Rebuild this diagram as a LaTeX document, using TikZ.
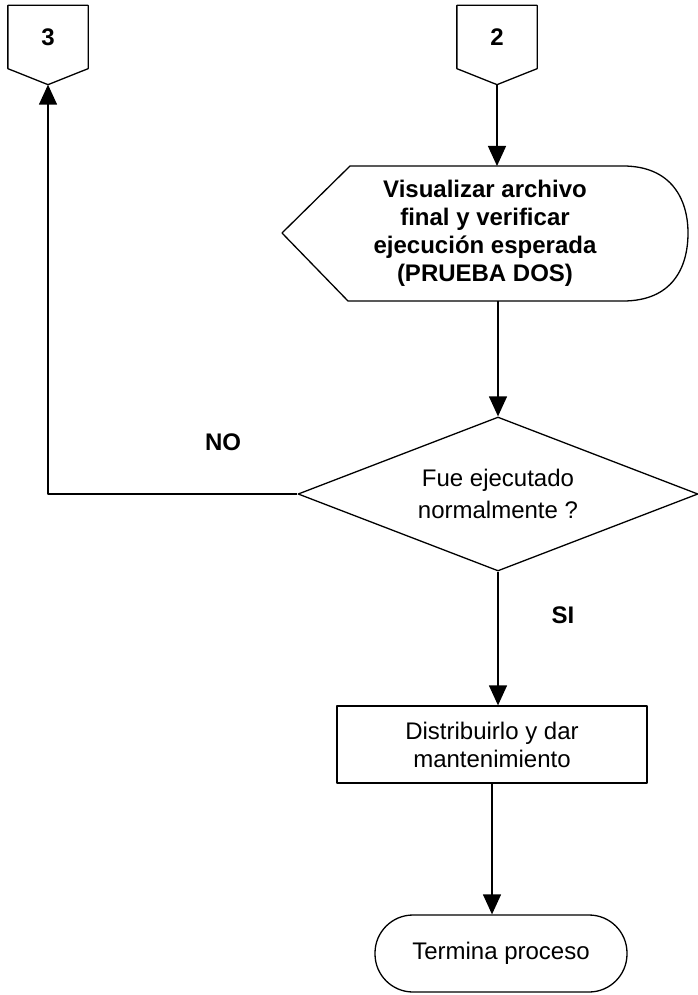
\documentclass[tikz,border=0pt]{standalone}
\usepackage{fontspec}
\setmainfont{Liberation Sans}
\usetikzlibrary{shapes.geometric,arrows.meta}

\newcommand\fsz{\fontsize{24}{28}\selectfont}

\tikzset{
  conn/.style={minimum width=79pt, minimum height=62pt, inner sep=0pt, font=\fsz\bfseries},
  decision/.style={draw, diamond, aspect=2.6, minimum width=400pt, minimum height=154pt, inner sep=0pt, align=center, font=\fontsize{24}{32}\selectfont},
  proc/.style={draw, rectangle, minimum width=310pt, minimum height=77pt, align=center, font=\fsz},
  term/.style={draw, rectangle, rounded corners=38pt, minimum width=252pt, minimum height=77pt, font=\fsz},
  lbl/.style={font=\fsz\bfseries},
  flow/.style={-{Triangle[width=18pt,length=20pt]}},
}

\begin{document}
\begin{tikzpicture}[x=1pt, y=-1pt, line width=1.3pt, line join=round]
\useasboundingbox (0,0) rectangle (697,995);
% conectores de pagina
\node[conn] (c3) at (48,37) {3};
\node[conn] (c2) at (497,37) {2};
\foreach \n in {c3,c2}
  \draw (\n.south west) -- (\n.north west) -- (\n.north east) -- (\n.south east) -- ([yshift=-16pt]\n.south) -- cycle;
% pantalla
\node[align=center, font=\fsz\bfseries] (vis) at (485,233) {Visualizar archivo\\final y verificar\\ejecución esperada\\(PRUEBA DOS)};
\draw (282,233) -- (350,166) -- (623,166) .. controls (672,166) and (688,200) .. (688,233)
  .. controls (688,268) and (672,301) .. (623,301) -- (348,301) -- cycle;
\coordinate (vistop) at (498,166);
\coordinate (visbot) at (498,301);
% decision y pasos
\node[decision] (dec) at (498,494) {Fue ejecutado\\normalmente ?};
\node[proc] (proc) at (492,744.5) {Distribuirlo y dar\\mantenimiento};
\node[term] (term) at (501,953.5) {Termina proceso};
\node[lbl] (lblno) at (223,442) {NO};
\node[lbl] (lblsi) at (563,615) {SI};
% flechas
\draw[flow] ([yshift=-16pt]c2.south) -- (c2.south |- vistop);
\draw[flow] (visbot) -- (dec.north);
\draw[flow] (dec.south) -- (dec.south |- proc.north);
\draw[flow] (proc.south) -- (proc.south |- term.north);
\draw[flow] (dec.west) -| ([yshift=-16pt]c3.south);
\end{tikzpicture}
\end{document}
